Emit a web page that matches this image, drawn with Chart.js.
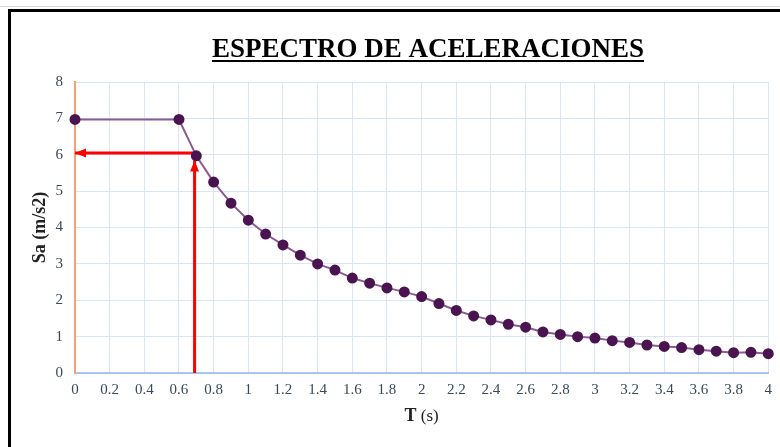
<!DOCTYPE html>
<html>
<head>
<meta charset="utf-8">
<script src="https://cdn.jsdelivr.net/npm/chart.js@4/dist/chart.umd.min.js"></script>
<style>
  html, body { margin: 0; padding: 0; background: #fff; }
  #wrap { width: 780px; height: 447px; position: relative; }
</style>
</head>
<body>
<div id="wrap"><canvas id="spectro"></canvas></div>
<script>
// periods T (s) and spectral acceleration Sa (m/s2)
let periods = [0, 0.6, 0.7, 0.8, 0.9, 1.0, 1.1, 1.2, 1.3, 1.4, 1.5, 1.6, 1.7, 1.8, 1.9,
               2.0, 2.1, 2.2, 2.3, 2.4, 2.5, 2.6, 2.7, 2.8, 2.9, 3.0, 3.1, 3.2, 3.3, 3.4,
               3.5, 3.6, 3.7, 3.8, 3.9, 4.0];
let accel = [6.97, 6.97, 5.97, 5.25, 4.67, 4.2, 3.82, 3.52, 3.24, 3.0, 2.83, 2.61, 2.47, 2.34, 2.23,
             2.1, 1.91, 1.72, 1.57, 1.46, 1.34, 1.26, 1.13, 1.06, 1.0, 0.96, 0.89, 0.84, 0.77, 0.73,
             0.70, 0.64, 0.60, 0.56, 0.57, 0.53];

// red reading arrows (T, Sa): horizontal one pointing at the Sa axis, vertical one at the curve
let arrowH = [[0.69, 6.05], [0, 6.05]];
let arrowV = [[0.69, 0], [0.69, 5.84]];

let chartTitle = "ESPECTRO DE ACELERACIONES";
let xTitleBold = "T";
let xTitleRest = " (s)";
let yTitle = "Sa (m/s2)";

let serif = "'Liberation Serif', 'Times New Roman', serif";

function toPoints(xs, ys) {
    return xs.map((x, i) => ({x: x, y: ys[i]}));
}
function pairs(arr) {
    return arr.map(p => ({x: p[0], y: p[1]}));
}

// frame, title with underline, x axis title (bold T, plain units)
let framePlugin = {
    id: 'frame',
    beforeDraw(chart) {
        let ctx = chart.ctx;
        ctx.save();
        ctx.fillStyle = '#fff';
        ctx.fillRect(0, 0, chart.width, chart.height);
        ctx.strokeStyle = '#d9d9d9';
        ctx.lineWidth = 1;
        ctx.beginPath();
        ctx.moveTo(0, 6.5);
        ctx.lineTo(chart.width, 6.5);
        ctx.stroke();
        ctx.strokeStyle = '#000';
        ctx.lineWidth = 3;
        ctx.beginPath();
        ctx.moveTo(9.5, chart.height);
        ctx.lineTo(9.5, 10.5);
        ctx.lineTo(chart.width, 10.5);
        ctx.stroke();
        ctx.restore();
    },
    afterDraw(chart) {
        let ctx = chart.ctx;
        ctx.save();
        ctx.font = "bold 27px " + serif;
        ctx.fillStyle = '#000';
        ctx.textAlign = 'center';
        ctx.textBaseline = 'alphabetic';
        let cx = 428;
        ctx.fillText(chartTitle, cx, 57);
        let w = ctx.measureText(chartTitle).width;
        ctx.fillRect(cx - w / 2, 60, w, 2);

        let area = chart.chartArea;
        let mid = (area.left + area.right) / 2;
        ctx.font = "bold 18px " + serif;
        let wb = ctx.measureText(xTitleBold).width;
        ctx.font = "17px " + serif;
        let wr = ctx.measureText(xTitleRest).width;
        let x0 = mid - (wb + wr) / 2;
        ctx.textAlign = 'left';
        ctx.fillStyle = '#222';
        ctx.font = "bold 18px " + serif;
        ctx.fillText(xTitleBold, x0, 421);
        ctx.font = "17px " + serif;
        ctx.fillText(xTitleRest, x0 + wb, 421);
        ctx.restore();
    }
};

// arrow heads at the end of the red datasets
let arrowPlugin = {
    id: 'arrowHeads',
    afterDatasetsDraw(chart) {
        let ctx = chart.ctx;
        chart.data.datasets.forEach((ds, i) => {
            if (!ds.arrow) return;
            let pts = chart.getDatasetMeta(i).data;
            let a = pts[pts.length - 2], b = pts[pts.length - 1];
            let ang = Math.atan2(b.y - a.y, b.x - a.x);
            let len = 11, half = 4.5;
            ctx.save();
            ctx.translate(b.x, b.y);
            ctx.rotate(ang);
            ctx.fillStyle = ds.borderColor;
            ctx.beginPath();
            ctx.moveTo(0, 0);
            ctx.lineTo(-len, -half);
            ctx.lineTo(-len, half);
            ctx.closePath();
            ctx.fill();
            ctx.restore();
        });
    }
};

let ctx = document.getElementById('spectro').getContext('2d');
let spectroChart = new Chart(ctx, {
    type: 'scatter',
    data: {
        datasets: [
            {
                label: 'Sa',
                data: toPoints(periods, accel),
                showLine: true,
                clip: false,
                borderColor: '#8c5a93',
                borderWidth: 2,
                pointBackgroundColor: '#4a1450',
                pointBorderColor: '#4a1450',
                pointRadius: 4.5,
                pointHoverRadius: 4.5,
                tension: 0
            },
            {
                label: 'arrowH',
                arrow: true,
                data: pairs(arrowH),
                showLine: true,
                clip: false,
                borderColor: '#ff0000',
                borderWidth: 3,
                pointRadius: 0
            },
            {
                label: 'arrowV',
                arrow: true,
                data: pairs(arrowV),
                showLine: true,
                borderColor: '#ff0000',
                borderWidth: 3,
                pointRadius: 0
            }
        ]
    },
    options: {
        responsive: true,
        maintainAspectRatio: false,
        animation: false,
        events: [],
        layout: {
            padding: {left: 0, right: 8, top: 82, bottom: 0}
        },
        plugins: {
            legend: {display: false},
            tooltip: {enabled: false},
            title: {display: false}
        },
        scales: {
            x: {
                type: 'linear',
                min: 0,
                max: 4,
                afterFit: s => { s.height = 74; },
                grid: {color: '#d7e5f6', lineWidth: 1, drawTicks: false},
                border: {color: '#a8c5ea', width: 2},
                ticks: {
                    stepSize: 0.2,
                    padding: 8,
                    color: '#3a485a',
                    font: {family: serif, size: 15},
                    callback: v => String(Number(v.toFixed(1)))
                }
            },
            y: {
                min: 0,
                max: 8,
                afterFit: s => { s.width = 75; },
                grid: {color: '#d7e5f6', lineWidth: 1, drawTicks: false},
                border: {color: '#f4a072', width: 2},
                ticks: {
                    stepSize: 1,
                    padding: 12,
                    color: '#3a485a',
                    font: {family: serif, size: 15}
                },
                title: {
                    display: true,
                    text: yTitle,
                    color: '#222',
                    font: {family: serif, size: 18, weight: 'bold'},
                    padding: {top: 30, bottom: 0}
                }
            }
        }
    },
    plugins: [framePlugin, arrowPlugin]
});
</script>
</body>
</html>
